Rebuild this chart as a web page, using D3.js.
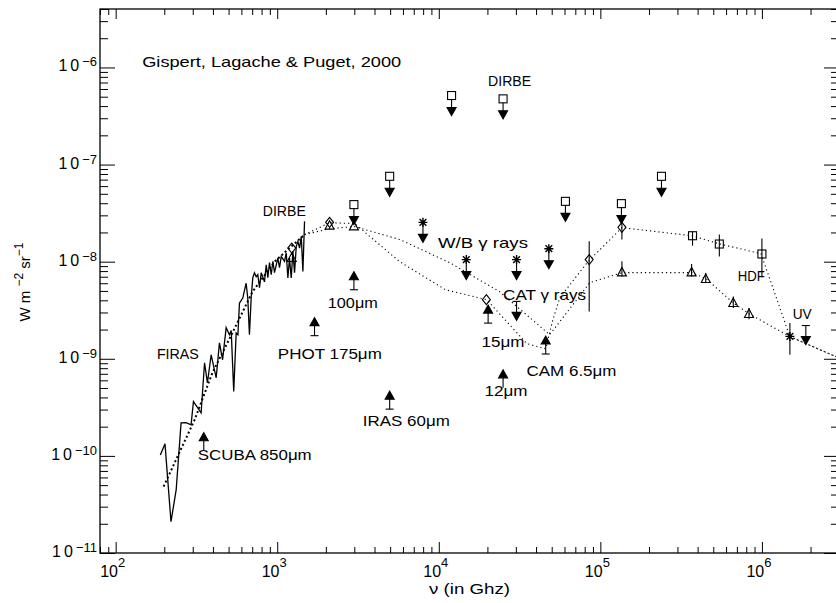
<!DOCTYPE html>
<html><head><meta charset="utf-8">
<script src="https://cdn.jsdelivr.net/npm/d3@7"></script>
<style>
body{margin:0;background:#fff}
text{font-family:"Liberation Sans","DejaVu Sans",sans-serif;fill:#000}
</style>
</head><body>
<svg id="c" width="836" height="603"></svg>
<script>
// ---------------- data ----------------
const xTicks = [1e2, 1e3, 1e4, 1e5, 1e6];
const xTickExp = ["2", "3", "4", "5", "6"];
const yTicks = [1e-11, 1e-10, 1e-9, 1e-8, 1e-7, 1e-6];
const yTickExp = ["\u221211", "\u221210", "\u22129", "\u22128", "\u22127", "\u22126"];

// FIRAS spectrum (GHz, W m-2 sr-1)
const firasNu = [189,202,220,237,254,273,293,303,338,355,370,390,419,439,459,483,506,519,538,557,571,584,612,642,657,673,690,706,723,741,758,777,796,834,855,875,896,918,940,962,1009,1033,1059,1110,1137,1164,1191,1221,1250,1280,1312,1343,1375,1409,1442,1476];
const firasI = [1.02e-10,1.33e-10,2.1e-11,4.5e-11,2.19e-10,2.2e-10,2.09e-10,3.63e-10,2.77e-10,9.1e-10,5.66e-10,1.10e-9,6.37e-10,1.46e-9,9.77e-10,2.09e-9,1.77e-9,1.95e-9,4.6e-10,1.84e-9,1.77e-9,3.75e-9,4.22e-9,6.0e-9,4.25e-9,1.77e-9,4.25e-9,6.84e-9,7.7e-9,7.0e-9,7.34e-9,5.4e-9,7.7e-9,6.2e-9,9.3e-9,6.84e-9,9.8e-9,7.34e-9,1.01e-8,7.7e-9,1.09e-8,8.67e-9,1.13e-8,1.01e-8,1.23e-8,6.8e-9,1.09e-8,6.8e-9,1.28e-8,7.7e-9,1.44e-8,1.62e-8,1.38e-8,1.82e-8,7.94e-9,2.6e-8];

// FIRAS fit (thick dotted)
const fitNu = [198,308,397,528,703,962,1476];
const fitI = [4.83e-11,2.35e-10,7.18e-10,1.85e-9,4.91e-9,1.0e-8,1.9e-8];

// model curve A (through diamonds)
const modelANu = [1476,2109,3013,5730,1.10e4,1.98e4,3.51e4,4.59e4,5.08e4,5.61e4,8.38e4,1.36e5,3.69e5,5.42e5,9.87e5,1.49e6,2.88e6];
const modelAI = [1.9e-8,2.52e-8,2.47e-8,1.0e-8,5.14e-9,4.06e-9,1.43e-9,1.27e-9,2.52e-9,4.26e-9,1.0e-8,2.24e-8,1.85e-8,1.53e-8,1.21e-8,1.69e-9,1.05e-9];
// model curve B (through triangles)
const modelBNu = [1476,2109,3013,5730,1.17e4,2.38e4,3.66e4,4.86e4,5.86e4,7.14e4,8.61e4,1.36e5,3.69e5,4.51e5,6.62e5,8.32e5,1.49e6,2.88e6];
const modelBI = [1.9e-8,2.19e-8,2.30e-8,1.69e-8,9.77e-9,4.91e-9,2.65e-9,1.77e-9,2.65e-9,4.06e-9,6.08e-9,7.71e-9,7.71e-9,6.68e-9,3.78e-9,2.91e-9,1.69e-9,1.05e-9];

// DIRBE upper limits (squares with down arrows)
const dirbeLimNu = [2983,4966,1.2e4,2.5e4,6.08e4,1.35e5,2.39e5];
const dirbeLimI = [3.87e-8,7.57e-8,5.14e-7,4.75e-7,4.18e-8,3.96e-8,7.57e-8];

// W/B gamma-ray upper limits (asterisks with down arrows)
const gammaNu = [7980,1.48e4,3.03e4,4.80e4];
const gammaI = [2.54e-8,1.05e-8,1.05e-8,1.36e-8];

// capped upper limits (CAT gamma rays, UV)
const capLimNu = [3.03e4,1.87e6];
const capLimI = [3.9e-9,2.2e-9];

// lower limits (up arrows): SCUBA, PHOT 175, 100um, IRAS 60, 15um, 12um, CAM 6.5
const lowLimNu = [351,1702,2983,4966,2.02e4,2.5e4,4.59e4];
const lowLimI = [1.13e-10,1.73e-9,5.14e-9,3.03e-10,2.33e-9,5.02e-10,1.12e-9];
const lowLimCap = [false,true,true,true,true,false,true];

// diamonds
const diaNu = [1230,2109,1.97e4,8.53e4,1.36e5];
const diaI = [1.38e-8,2.54e-8,4.06e-9,1.05e-8,2.26e-8];
const diaLo = [null,null,null,3.07e-9,1.69e-8];
const diaHi = [null,null,null,1.62e-8,2.71e-8];

// triangles
const triNu = [1230,2109,2983,1.36e5,3.67e5,4.49e5,6.65e5,8.32e5];
const triI = [1.09e-8,2.35e-8,2.31e-8,7.76e-9,7.76e-9,6.64e-9,3.75e-9,2.89e-9];
const triLo = [null,null,null,7.05e-9,7.05e-9,6.03e-9,3.33e-9,2.56e-9];
const triHi = [null,null,null,1.01e-8,9.46e-9,7.65e-9,4.39e-9,3.33e-9];

// squares with error bars
const sqNu = [3.72e5,5.45e5,1.0e6];
const sqI = [1.85e-8,1.52e-8,1.20e-8];
const sqLo = [1.46e-8,1.13e-8,7.05e-9];
const sqHi = [2.05e-8,1.90e-8,1.73e-8];

// UV asterisk with error bar
const uvNu = [1.49e6];
const uvI = [1.70e-9];
const uvLo = [1.10e-9];
const uvHi = [2.33e-9];

// annotations (text, anchor frequency, anchor intensity, width)
const labelText = ["Gispert, Lagache & Puget, 2000","DIRBE","DIRBE","W/B \u03b3 rays","CAT \u03b3 rays","100\u03bcm","PHOT 175\u03bcm","FIRAS","IRAS 60\u03bcm","SCUBA 850\u03bcm","15\u03bcm","CAM 6.5\u03bcm","12\u03bcm","HDF","UV"];
const labelNu = [146,2.02e4,814,9890,2.5e4,2056,1009,180,3388,322,1.84e4,3.49e4,1.92e4,7.08e5,1.55e6];
const labelI = [1e-6,6.5e-7,2.98e-8,1.38e-8,4.06e-9,3.36e-9,1e-9,1e-9,2.04e-10,9.1e-11,1.33e-9,6.68e-10,4.16e-10,6.37e-9,2.58e-9];
const labelW = [259,43,43,90,83,50,104,42,87,114,43,90,43,27,19];

// ---------------- drawing ----------------
const svg = d3.select("#c");
const L = 100, R = 839, T = 9, B = 553;
const x = d3.scaleLog().domain([80, 3e6]).range([L, R]);
const y = d3.scaleLog().domain([1e-11, 4e-6]).range([B, T]);

function minors(dom) {
  const out = [];
  const lo = Math.floor(Math.log10(dom[0])), hi = Math.ceil(Math.log10(dom[1]));
  for (let e = lo; e <= hi; e++) for (let m = 2; m <= 9; m++) {
    const v = m * Math.pow(10, e);
    if (v >= dom[0] && v <= dom[1]) out.push(v);
  }
  return out;
}
const xMin = minors(x.domain()), yMin = minors(y.domain());

function axisG(gen, tx, ty) {
  const g = svg.append("g").attr("transform", `translate(${tx},${ty})`).call(gen);
  g.select(".domain").remove();
  g.selectAll("line").attr("stroke", "#000").attr("stroke-width", 1);
  g.selectAll("text").remove();
  return g;
}
axisG(d3.axisBottom(x).tickValues(xTicks).tickSize(-11).tickFormat(""), 0, B);
axisG(d3.axisBottom(x).tickValues(xMin).tickSize(-6).tickFormat(""), 0, B);
axisG(d3.axisTop(x).tickValues(xTicks).tickSize(-10).tickFormat(""), 0, T);
axisG(d3.axisTop(x).tickValues(xMin).tickSize(-6).tickFormat(""), 0, T);
axisG(d3.axisLeft(y).tickValues(yTicks).tickSize(-15).tickFormat(""), L, 0);
axisG(d3.axisLeft(y).tickValues(yMin).tickSize(-8).tickFormat(""), L, 0);
axisG(d3.axisRight(y).tickValues(yTicks).tickSize(-15).tickFormat(""), R, 0);
axisG(d3.axisRight(y).tickValues(yMin).tickSize(-8).tickFormat(""), R, 0);

svg.append("rect").attr("x", L).attr("y", T).attr("width", R - L).attr("height", B - T)
  .attr("fill", "none").attr("stroke", "#000").attr("stroke-width", 1.3);

// tick labels
xTicks.forEach((v, i) => {
  const t = svg.append("text").attr("x", x(v) - 3).attr("y", 577)
    .attr("text-anchor", "middle").style("font-size", "16px");
  t.append("tspan").text("10");
  t.append("tspan").attr("dy", -10).style("font-size", "13px").text(xTickExp[i]);
});
yTicks.forEach((v, i) => {
  const t = svg.append("text").attr("x", 97).attr("y", y(v) + 4)
    .attr("text-anchor", "end").style("font-size", "16px");
  t.append("tspan").text("10").style("letter-spacing", "3px");
  t.append("tspan").attr("dy", -5).style("font-size", "13px").text(yTickExp[i]);
});

// axis titles
const xt = svg.append("text").attr("x", (L + R) / 2).attr("y", 594)
  .attr("text-anchor", "middle").style("font-size", "15px")
  .attr("textLength", 81).attr("lengthAdjust", "spacingAndGlyphs");
xt.append("tspan").text("\u03bd (in Ghz)");
const yt = svg.append("text").attr("transform", "translate(30,282) rotate(-90)")
  .attr("text-anchor", "middle").style("font-size", "15px");
yt.append("tspan").text("W m ");
yt.append("tspan").attr("dy", -7).style("font-size", "12px").text("\u22122");
yt.append("tspan").attr("dy", 7).text(" sr");
yt.append("tspan").attr("dy", -7).style("font-size", "12px").text("\u22121");

// clip
svg.append("clipPath").attr("id", "clip").append("rect")
  .attr("x", L).attr("y", T).attr("width", R - L).attr("height", B - T);
const plot = svg.append("g").attr("clip-path", "url(#clip)");

const line = d3.line().x(d => x(d[0])).y(d => y(d[1]));
const zip = (a, b) => a.map((v, i) => [v, b[i]]);

plot.append("path").attr("d", line(zip(firasNu, firasI)))
  .attr("fill", "none").attr("stroke", "#000").attr("stroke-width", 1.3).attr("stroke-linejoin", "miter");
plot.append("path").attr("d", line(zip(fitNu, fitI)))
  .attr("fill", "none").attr("stroke", "#000").attr("stroke-width", 2).attr("stroke-dasharray", "2,2.5");
[[modelANu, modelAI], [modelBNu, modelBI]].forEach(([n, v]) => {
  plot.append("path").attr("d", line(zip(n, v)))
    .attr("fill", "none").attr("stroke", "#000").attr("stroke-width", 1.1).attr("stroke-dasharray", "1.2,3");
});

const mk = plot.append("g").attr("stroke", "#000").attr("stroke-width", 1.1).attr("fill", "none");

function vline(px, y1, y2) { mk.append("line").attr("x1", px).attr("x2", px).attr("y1", y1).attr("y2", y2); }
function hline(px, py, w) { mk.append("line").attr("x1", px - w / 2).attr("x2", px + w / 2).attr("y1", py).attr("y2", py); }
function downHead(px, tip) { mk.append("path").attr("d", `M${px - 4.5},${tip - 8}L${px + 4.5},${tip - 8}L${px},${tip}Z`).attr("fill", "#000"); }
function upHead(px, tip) { mk.append("path").attr("d", `M${px - 4.5},${tip + 8}L${px + 4.5},${tip + 8}L${px},${tip}Z`).attr("fill", "#000"); }
function square(px, py) { mk.append("rect").attr("x", px - 4).attr("y", py - 4).attr("width", 8).attr("height", 8); }
function diamond(px, py) { mk.append("path").attr("d", `M${px},${py - 5}L${px + 4},${py}L${px},${py + 5}L${px - 4},${py}Z`); }
function triangle(px, py) { mk.append("path").attr("d", `M${px},${py - 5}L${px + 4.5},${py + 3.5}L${px - 4.5},${py + 3.5}Z`); }
function asterisk(px, py) {
  const r = 4.5;
  mk.append("path").attr("stroke-width", 1.4)
    .attr("d", `M${px},${py - r}V${py + r}M${px - r},${py}H${px + r}M${px - r * .75},${py - r * .75}L${px + r * .75},${py + r * .75}M${px - r * .75},${py + r * .75}L${px + r * .75},${py - r * .75}`);
}

// error bars first
diaNu.forEach((n, i) => { if (diaLo[i] != null) vline(x(n), y(diaLo[i]), y(diaHi[i])); });
triNu.forEach((n, i) => { if (triLo[i] != null) vline(x(n), y(triLo[i]), y(triHi[i])); });
sqNu.forEach((n, i) => vline(x(n), y(sqLo[i]), y(sqHi[i])));
uvNu.forEach((n, i) => vline(x(n), y(uvLo[i]), y(uvHi[i])));

// DIRBE upper limits
dirbeLimNu.forEach((n, i) => {
  const px = x(n), py = y(dirbeLimI[i]);
  square(px, py); vline(px, py + 4, py + 13); downHead(px, py + 20);
});
// gamma upper limits
gammaNu.forEach((n, i) => {
  const px = x(n), py = y(gammaI[i]);
  asterisk(px, py); vline(px, py, py + 13); downHead(px, py + 20);
});
// capped upper limits
capLimNu.forEach((n, i) => {
  const px = x(n), py = y(capLimI[i]);
  hline(px, py, 8); vline(px, py, py + 12); downHead(px, py + 19);
});
// lower limits
lowLimNu.forEach((n, i) => {
  const px = x(n), py = y(lowLimI[i]);
  if (lowLimCap[i]) hline(px, py, 8);
  vline(px, py, py - 11); upHead(px, py - 18);
});
diaNu.forEach((n, i) => diamond(x(n), y(diaI[i])));
triNu.forEach((n, i) => triangle(x(n), y(triI[i])));
sqNu.forEach((n, i) => square(x(n), y(sqI[i])));
uvNu.forEach((n, i) => asterisk(x(n), y(uvI[i])));

// annotations
labelText.forEach((s, i) => {
  svg.append("text").attr("x", x(labelNu[i])).attr("y", y(labelI[i]))
    .style("font-size", "15px")
    .attr("textLength", labelW[i]).attr("lengthAdjust", "spacingAndGlyphs")
    .text(s);
});
</script>
</body></html>
